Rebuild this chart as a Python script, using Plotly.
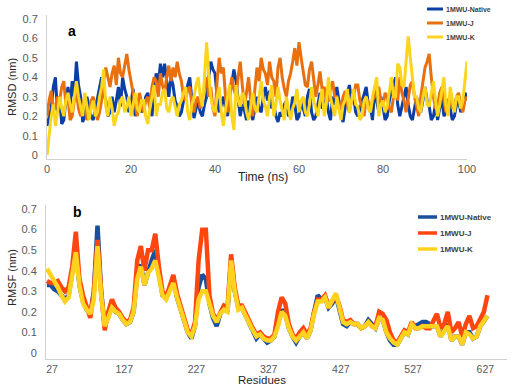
import plotly.graph_objects as go

# ---------------- Panel a: RMSD vs time (sampled every 0.5 ns) ----------------
time_ns = [i * 0.5 for i in range(201)]

rmsd_native = [
    0.15, 0.20, 0.24, 0.35, 0.40, 0.22, 0.30, 0.16, 0.18, 0.28, 0.35, 0.25, 0.38, 0.30, 0.48, 0.36, 0.30, 0.17, 0.20, 0.30,
    0.25, 0.20, 0.18, 0.24, 0.30, 0.36, 0.40, 0.32, 0.28, 0.20, 0.22, 0.30, 0.22, 0.28, 0.35, 0.25, 0.40, 0.34, 0.30, 0.22,
    0.27, 0.34, 0.20, 0.25, 0.30, 0.22, 0.24, 0.30, 0.32, 0.26, 0.20, 0.34, 0.42, 0.36, 0.47, 0.40, 0.47, 0.38, 0.30, 0.40,
    0.36, 0.28, 0.25, 0.20, 0.22, 0.28, 0.30, 0.36, 0.40, 0.28, 0.19, 0.24, 0.27, 0.22, 0.20, 0.26, 0.30, 0.40, 0.48, 0.44,
    0.42, 0.30, 0.22, 0.26, 0.30, 0.24, 0.20, 0.30, 0.36, 0.44, 0.38, 0.28, 0.20, 0.26, 0.23, 0.18, 0.28, 0.22, 0.18, 0.24,
    0.30, 0.24, 0.22, 0.30, 0.35, 0.28, 0.33, 0.24, 0.26, 0.20, 0.17, 0.22, 0.20, 0.26, 0.28, 0.20, 0.22, 0.30, 0.26, 0.18,
    0.20, 0.28, 0.24, 0.20, 0.30, 0.34, 0.22, 0.18, 0.20, 0.26, 0.32, 0.24, 0.25, 0.30, 0.22, 0.18, 0.30, 0.26, 0.35, 0.28,
    0.20, 0.17, 0.26, 0.32, 0.36, 0.28, 0.30, 0.22, 0.20, 0.24, 0.28, 0.32, 0.35, 0.26, 0.25, 0.18, 0.33, 0.28, 0.22, 0.30,
    0.25, 0.18, 0.20, 0.28, 0.33, 0.36, 0.40, 0.26, 0.20, 0.25, 0.30, 0.35, 0.26, 0.20, 0.18, 0.24, 0.30, 0.24, 0.22, 0.28,
    0.35, 0.28, 0.25, 0.18, 0.20, 0.26, 0.18, 0.24, 0.30, 0.20, 0.22, 0.28, 0.24, 0.18, 0.20, 0.26, 0.28, 0.22, 0.25, 0.32,
    0.30]

rmsd_j = [
    0.20, 0.28, 0.33, 0.22, 0.25, 0.30, 0.28, 0.35, 0.38, 0.26, 0.30, 0.18, 0.20, 0.28, 0.33, 0.24, 0.20, 0.26, 0.30, 0.18,
    0.22, 0.28, 0.30, 0.24, 0.18, 0.22, 0.28, 0.38, 0.45, 0.40, 0.35, 0.42, 0.46, 0.36, 0.50, 0.42, 0.40, 0.46, 0.52, 0.44,
    0.38, 0.30, 0.26, 0.20, 0.32, 0.26, 0.22, 0.28, 0.30, 0.24, 0.35, 0.40, 0.38, 0.30, 0.42, 0.36, 0.32, 0.40, 0.46, 0.38,
    0.45, 0.40, 0.48, 0.42, 0.38, 0.30, 0.28, 0.34, 0.35, 0.26, 0.22, 0.28, 0.30, 0.24, 0.30, 0.36, 0.40, 0.30, 0.35, 0.24,
    0.20, 0.38, 0.50, 0.42, 0.45, 0.30, 0.22, 0.32, 0.40, 0.34, 0.30, 0.40, 0.48, 0.36, 0.25, 0.32, 0.40, 0.28, 0.20, 0.34,
    0.45, 0.38, 0.50, 0.44, 0.42, 0.36, 0.48, 0.40, 0.38, 0.30, 0.45, 0.50, 0.40, 0.34, 0.30, 0.38, 0.42, 0.48, 0.55, 0.46,
    0.58, 0.50, 0.42, 0.36, 0.35, 0.44, 0.48, 0.38, 0.30, 0.36, 0.43, 0.34, 0.35, 0.28, 0.28, 0.34, 0.38, 0.30, 0.30, 0.24,
    0.25, 0.30, 0.33, 0.26, 0.22, 0.28, 0.30, 0.36, 0.36, 0.28, 0.25, 0.20, 0.30, 0.26, 0.22, 0.28, 0.30, 0.34, 0.35, 0.28,
    0.25, 0.32, 0.30, 0.24, 0.22, 0.30, 0.35, 0.28, 0.40, 0.32, 0.28, 0.22, 0.30, 0.36, 0.38, 0.30, 0.25, 0.20, 0.30, 0.38,
    0.45, 0.48, 0.52, 0.40, 0.30, 0.24, 0.25, 0.32, 0.35, 0.28, 0.22, 0.28, 0.30, 0.24, 0.25, 0.30, 0.32, 0.26, 0.22, 0.28,
    0.30]

rmsd_k = [
    0.00, 0.12, 0.20, 0.26, 0.15, 0.22, 0.30, 0.24, 0.20, 0.28, 0.32, 0.26, 0.22, 0.30, 0.38, 0.30, 0.25, 0.20, 0.32, 0.26,
    0.18, 0.24, 0.28, 0.20, 0.22, 0.30, 0.35, 0.44, 0.25, 0.20, 0.30, 0.24, 0.15, 0.20, 0.22, 0.28, 0.30, 0.22, 0.25, 0.30,
    0.20, 0.26, 0.32, 0.24, 0.22, 0.28, 0.28, 0.20, 0.16, 0.24, 0.30, 0.36, 0.20, 0.26, 0.26, 0.32, 0.34, 0.24, 0.22, 0.28,
    0.30, 0.24, 0.20, 0.26, 0.28, 0.32, 0.35, 0.22, 0.18, 0.26, 0.30, 0.36, 0.40, 0.30, 0.25, 0.40, 0.58, 0.42, 0.30, 0.24,
    0.22, 0.30, 0.35, 0.22, 0.15, 0.24, 0.30, 0.36, 0.20, 0.13, 0.36, 0.28, 0.25, 0.32, 0.30, 0.22, 0.18, 0.26, 0.32, 0.24,
    0.22, 0.30, 0.38, 0.28, 0.25, 0.20, 0.30, 0.36, 0.20, 0.26, 0.35, 0.28, 0.22, 0.18, 0.30, 0.24, 0.18, 0.24, 0.27, 0.34,
    0.22, 0.28, 0.30, 0.22, 0.20, 0.26, 0.35, 0.28, 0.24, 0.20, 0.28, 0.34, 0.20, 0.26, 0.40, 0.30, 0.25, 0.20, 0.30, 0.24,
    0.18, 0.26, 0.28, 0.34, 0.22, 0.28, 0.34, 0.26, 0.25, 0.18, 0.20, 0.28, 0.30, 0.24, 0.22, 0.30, 0.35, 0.40, 0.20, 0.26,
    0.28, 0.22, 0.25, 0.32, 0.40, 0.30, 0.30, 0.47, 0.45, 0.36, 0.35, 0.48, 0.61, 0.50, 0.40, 0.30, 0.30, 0.24, 0.22, 0.30,
    0.35, 0.26, 0.25, 0.32, 0.38, 0.28, 0.20, 0.26, 0.32, 0.40, 0.25, 0.20, 0.35, 0.28, 0.22, 0.30, 0.30, 0.24, 0.28, 0.38,
    0.48]

# ---------------- Panel b: RMSF vs residues ----------------
residues = list(range(20, 631, 5))

rmsf_native = [0.33, 0.33, 0.31, 0.30, 0.28, 0.26, 0.28, 0.40, 0.50, 0.33,
               0.25, 0.21, 0.19, 0.30, 0.62, 0.30, 0.13, 0.18, 0.23, 0.20,
               0.19, 0.16, 0.14, 0.15, 0.20, 0.38, 0.43, 0.33, 0.40, 0.45,
               0.50, 0.38, 0.28, 0.27, 0.32, 0.36, 0.27, 0.21, 0.15, 0.10,
               0.07, 0.13, 0.32, 0.38, 0.36, 0.24, 0.17, 0.13, 0.19, 0.22,
               0.20, 0.46, 0.30, 0.22, 0.22, 0.18, 0.14, 0.10, 0.07, 0.09,
               0.07, 0.05, 0.06, 0.08, 0.15, 0.21, 0.19, 0.12, 0.08, 0.05,
               0.08, 0.10, 0.07, 0.11, 0.20, 0.28, 0.26, 0.27, 0.22, 0.24,
               0.28, 0.20, 0.14, 0.13, 0.15, 0.14, 0.14, 0.12, 0.13, 0.16,
               0.14, 0.12, 0.17, 0.16, 0.10, 0.06, 0.04, 0.04, 0.07, 0.10,
               0.09, 0.14, 0.13, 0.14, 0.15, 0.15, 0.14, 0.13, 0.13, 0.08,
               0.11, 0.14, 0.06, 0.08, 0.08, 0.04, 0.10, 0.10, 0.07, 0.08,
               0.13, 0.16, 0.18]

rmsf_j = [0.35, 0.34, 0.34, 0.35, 0.32, 0.30, 0.32, 0.42, 0.59, 0.36,
          0.28, 0.22, 0.17, 0.30, 0.55, 0.30, 0.11, 0.20, 0.26, 0.22,
          0.20, 0.17, 0.15, 0.16, 0.22, 0.45, 0.52, 0.40, 0.50, 0.50,
          0.58, 0.42, 0.30, 0.27, 0.32, 0.38, 0.29, 0.22, 0.17, 0.11,
          0.09, 0.15, 0.45, 0.60, 0.60, 0.28, 0.19, 0.16, 0.20, 0.23,
          0.22, 0.48, 0.32, 0.23, 0.23, 0.19, 0.15, 0.12, 0.09, 0.10,
          0.08, 0.07, 0.07, 0.09, 0.20, 0.27, 0.24, 0.14, 0.09, 0.07,
          0.10, 0.12, 0.09, 0.12, 0.20, 0.26, 0.26, 0.28, 0.23, 0.25,
          0.28, 0.23, 0.16, 0.15, 0.16, 0.14, 0.14, 0.12, 0.13, 0.15,
          0.13, 0.13, 0.20, 0.19, 0.16, 0.10, 0.06, 0.05, 0.08, 0.11,
          0.10, 0.15, 0.12, 0.12, 0.13, 0.12, 0.12, 0.16, 0.19, 0.12,
          0.14, 0.20, 0.10, 0.12, 0.15, 0.08, 0.14, 0.18, 0.12, 0.13,
          0.16, 0.20, 0.28]

rmsf_k = [0.41, 0.38, 0.36, 0.32, 0.28, 0.25, 0.27, 0.38, 0.49, 0.33,
          0.24, 0.21, 0.19, 0.26, 0.52, 0.28, 0.13, 0.17, 0.22, 0.20,
          0.19, 0.16, 0.14, 0.15, 0.20, 0.36, 0.42, 0.33, 0.39, 0.41,
          0.45, 0.37, 0.28, 0.26, 0.30, 0.34, 0.27, 0.21, 0.16, 0.10,
          0.08, 0.13, 0.26, 0.30, 0.30, 0.24, 0.18, 0.15, 0.19, 0.21,
          0.20, 0.45, 0.30, 0.21, 0.22, 0.18, 0.14, 0.11, 0.08, 0.09,
          0.07, 0.06, 0.06, 0.08, 0.13, 0.20, 0.18, 0.12, 0.08, 0.06,
          0.08, 0.10, 0.07, 0.11, 0.19, 0.25, 0.25, 0.27, 0.22, 0.25,
          0.29, 0.22, 0.15, 0.14, 0.15, 0.14, 0.14, 0.12, 0.13, 0.15,
          0.13, 0.12, 0.17, 0.16, 0.10, 0.07, 0.05, 0.04, 0.07, 0.10,
          0.09, 0.14, 0.12, 0.12, 0.13, 0.13, 0.13, 0.13, 0.13, 0.08,
          0.11, 0.13, 0.06, 0.08, 0.08, 0.04, 0.10, 0.09, 0.07, 0.08,
          0.13, 0.16, 0.18]

series_names = ["1MWU-Native", "1MWU-J", "1MWU-K"]
top_x_ticks = [0, 20, 40, 60, 80, 100]
bottom_x_ticks = [27, 127, 227, 327, 427, 527, 627]
y_ticks = [0, 0.1, 0.2, 0.3, 0.4, 0.5, 0.6, 0.7]

top_colors = ["#0b3fa6", "#e8700f", "#fad51c"]
bottom_colors = ["#1a4f9c", "#ff4510", "#ffd21f"]

FONT = "Liberation Sans, Arial, sans-serif"
TICK_COLOR = "#595959"
TITLE_COLOR = "#262626"
LEGEND_COLOR = "#404040"
AXIS_LINE = "#d0d0d0"

fig = go.Figure()

for name, vals, col in zip(series_names, [rmsd_native, rmsd_j, rmsd_k], top_colors):
    fig.add_trace(go.Scatter(x=time_ns, y=vals, mode="lines", name=name,
                             line=dict(color=col, width=3),
                             xaxis="x", yaxis="y", showlegend=False))

for name, vals, col in zip(series_names, [rmsf_native, rmsf_j, rmsf_k], bottom_colors):
    fig.add_trace(go.Scatter(x=residues, y=vals, mode="lines", name=name,
                             line=dict(color=col, width=4.5),
                             xaxis="x2", yaxis="y2", showlegend=False))

W, H = 517, 388

def fx(px):
    return px / W

def fy(py):
    return 1 - py / H

axis_common = dict(showgrid=False, zeroline=False, showline=True,
                   linecolor=AXIS_LINE, linewidth=1, ticks="", automargin=False,
                   tickfont=dict(family=FONT, size=11, color=TICK_COLOR))

annotations = [
    dict(text="<b>a</b>", x=fx(72), y=fy(31), font=dict(family=FONT, size=14, color="black")),
    dict(text="<b>b</b>", x=fx(77), y=fy(212), font=dict(family=FONT, size=14, color="black")),
    dict(text="Time (ns)", x=fx(263), y=fy(177), font=dict(family=FONT, size=12, color=TITLE_COLOR)),
    dict(text="RMSD (nm)", x=fx(12), y=fy(87), textangle=-90,
         font=dict(family=FONT, size=11, color=TITLE_COLOR)),
    dict(text="Residues", x=fx(262), y=fy(380), font=dict(family=FONT, size=11.5, color=TITLE_COLOR)),
    dict(text="RMSF (nm)", x=fx(12), y=fy(278), textangle=-90,
         font=dict(family=FONT, size=11, color=TITLE_COLOR)),
]
for a in annotations:
    a.update(xref="paper", yref="paper", xanchor="center", yanchor="middle", showarrow=False)

# Legend entries (drawn as key lines + labels, one block per panel)
shapes = []
legend_blocks = [
    (top_colors, 427, 443, [9, 23, 37], 7, 3),
    (bottom_colors, 418, 437, [217, 233, 249], 8, 3.5),
]
for cols, x0, x1, ys, fsize, lw in legend_blocks:
    for name, col, yy in zip(series_names, cols, ys):
        shapes.append(dict(type="line", xref="paper", yref="paper",
                           x0=fx(x0), x1=fx(x1), y0=fy(yy), y1=fy(yy),
                           line=dict(color=col, width=lw)))
        annotations.append(dict(text="<b>" + name + "</b>", xref="paper", yref="paper",
                                x=fx(x1 + 1), y=fy(yy), xanchor="left", yanchor="middle",
                                showarrow=False,
                                font=dict(family=FONT, size=fsize, color=LEGEND_COLOR)))

fig.update_layout(
    width=W, height=H,
    margin=dict(l=0, r=0, t=0, b=0, autoexpand=False),
    paper_bgcolor="white", plot_bgcolor="white",
    font=dict(family=FONT, color=LEGEND_COLOR),
    showlegend=False,
    xaxis=dict(axis_common, domain=[fx(47), fx(467)], range=[0, 100],
               tickvals=top_x_ticks, anchor="y"),
    yaxis=dict(axis_common, domain=[fy(159), fy(15)], range=[-0.02, 0.72],
               tickvals=y_ticks, anchor="x", ticklabelstandoff=6),
    xaxis2=dict(axis_common, domain=[fx(46), fx(507)], range=[18.7, 657],
                tickvals=bottom_x_ticks, anchor="y2",
                tickfont=dict(family=FONT, size=10.5, color=TICK_COLOR)),
    yaxis2=dict(axis_common, domain=[fy(359), fy(205)], range=[-0.03, 0.72],
                tickvals=y_ticks, anchor="x2", ticklabelstandoff=6),
    annotations=annotations,
    shapes=shapes,
)

fig.write_html("out.html",
               config={"displayModeBar": False},
               post_script="document.body.style.margin='0';document.body.style.overflow='hidden';")
